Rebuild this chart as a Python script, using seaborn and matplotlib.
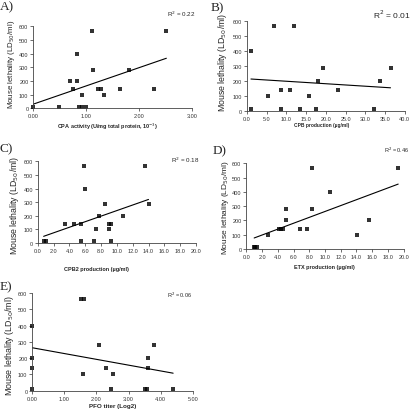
import matplotlib
matplotlib.use("Agg")
import matplotlib.pyplot as plt
import seaborn as sns
import pandas as pd

# panel A: CPA activity vs lethality
cpa_x = [0.00, 0.49, 0.69, 0.75, 0.83, 0.83, 0.86, 0.92, 0.92, 0.99,
         1.12, 1.14, 1.23, 1.29, 1.33, 1.65, 1.82, 2.29, 2.52]
cpa_y = [12.5, 12.5, 200, 141, 200, 400, 12.5, 12.5, 100, 12.5,
         566, 283, 141, 141, 100, 141, 283, 141, 566]

# panel B: CPB production
cpb_x = [1.0, 1.0, 5.2, 6.9, 8.5, 8.5, 10.8, 12.0, 13.4, 15.6,
         17.6, 18.1, 19.4, 23.0, 32.1, 33.8, 36.4]
cpb_y = [12.5, 400, 100, 566, 141, 12.5, 141, 566, 12.5, 100,
         12.5, 200, 283, 141, 12.5, 200, 283]

# panel C: CPB2 production
cpb2_x = [0.75, 1.0, 3.5, 4.6, 5.5, 5.45, 5.8, 6.0, 7.1, 7.4,
          7.7, 8.5, 9.0, 9.0, 9.3, 9.3, 10.8, 13.5, 14.0]
cpb2_y = [12.5, 12.5, 141, 141, 141, 12.5, 566, 400, 12.5, 100,
          200, 283, 100, 141, 141, 12.5, 200, 566, 283]

# panel D: ETX production
etx_x = [1.0, 1.15, 1.3, 2.7, 4.2, 4.4, 4.7, 5.0, 5.0, 6.8,
         7.7, 8.3, 8.4, 10.6, 14.1, 15.6, 19.3]
etx_y = [12.5, 12.5, 12.5, 100, 141, 141, 141, 283, 200, 141,
         141, 283, 566, 400, 100, 200, 566]

# panel E: PFO titer
pfo_x = [0.0, 0.0, 0.0, 0.0, 1.53, 1.61, 1.57, 2.09, 2.30, 2.44,
         2.52, 3.51, 3.58, 3.60, 3.60, 3.79, 4.39]
pfo_y = [12.5, 141, 200, 400, 566, 566, 100, 283, 141, 12.5,
         100, 12.5, 12.5, 141, 200, 283, 12.5]

W, H = 414, 410
sns.set_theme(style="ticks")
plt.rcParams["font.family"] = ["Liberation Sans", "DejaVu Sans"]

fig = plt.figure(figsize=(W / 100, H / 100), dpi=100)


def panel(xs, ys, box, xmax, xstep, fmt, letter, letter_xy, r2, r2_xy, r2_size,
          xlabel, xl_xy, xl_size, yl_xy, yl_size):
    x0, x1, y0, y6 = box
    ax = fig.add_axes([x0 / W, 1 - y0 / H, (x1 - x0) / W, (y0 - y6) / H])
    df = pd.DataFrame({"x": xs, "y": ys})
    sns.regplot(data=df, x="x", y="y", ax=ax, ci=None, marker="s", color="black",
                scatter_kws={"s": 5, "linewidths": 0, "clip_on": False},
                line_kws={"lw": 0.8})
    ax.set_xlim(0, xmax)
    ax.set_ylim(0, 600)
    n = int(round(xmax / xstep))
    ticks = [i * xstep for i in range(n + 1)]
    ax.set_xticks(ticks)
    ax.set_xticklabels([fmt % t for t in ticks])
    ax.set_yticks(range(0, 700, 100))
    ax.tick_params(labelsize=4, length=2, width=0.5, pad=1.5, colors="#333333")
    for s in ["left", "bottom"]:
        ax.spines[s].set_linewidth(0.6)
        ax.spines[s].set_color("#444444")
    sns.despine(ax=ax)
    ax.set_xlabel("")
    ax.set_ylabel("")
    fig.text(letter_xy[0] / W, 1 - letter_xy[1] / H, letter, fontsize=9.5,
             family="Liberation Serif", ha="left", va="center")
    fig.text(r2_xy[0] / W, 1 - r2_xy[1] / H, r2, fontsize=r2_size,
             ha="center", va="center")
    fig.text(xl_xy[0] / W, 1 - xl_xy[1] / H, xlabel, fontsize=xl_size,
             fontweight="bold", ha="center", va="center")
    fig.text(yl_xy[0] / W, 1 - yl_xy[1] / H, "Mouse lethality (LD$_{50}$/ml)",
             fontsize=yl_size, rotation=90, ha="center", va="center")
    return ax


panel(cpa_x, cpa_y, (33.3, 191.7, 109.3, 27.3), 3.0, 1.0, "%.2f",
      "A)", (0, 7), "R$^2$ = 0.22", (181, 14), 4.5,
      "CPA activity (U/mg total protein, 10$^{-3}$)", (108, 127), 4,
      (12, 64), 5.7)
panel(cpb_x, cpb_y, (247, 404.7, 111.7, 21.7), 40.0, 5.0, "%.1f",
      "B)", (211, 8), "R$^2$ = 0.01", (392, 15), 6,
      "CPB production (µg/ml)", (322, 126), 3.5,
      (223, 62), 6.3)
panel(cpb2_x, cpb2_y, (37.7, 196, 244, 162.3), 20.0, 2.0, "%.1f",
      "C)", (0, 149), "R$^2$ = 0.18", (185, 160), 4.5,
      "CPB2 production (µg/ml)", (97, 270), 4,
      (15, 205), 6.3)
panel(etx_x, etx_y, (246.3, 403.7, 250, 164.3), 20.0, 2.0, "%.1f",
      "D)", (213, 151), "R$^2$ = 0.46", (397, 150), 4,
      "ETX production (µg/ml)", (324, 268), 4,
      (226, 208), 6.0)
panel(pfo_x, pfo_y, (32.3, 192.7, 391.7, 294), 5.0, 1.0, "%.2f",
      "E)", (0, 287), "R$^2$ = 0.06", (180, 295), 4,
      "PFO titer (Log2)", (113, 407), 4.5,
      (10, 346), 6.4)

fig.savefig("out.png", dpi=100)
